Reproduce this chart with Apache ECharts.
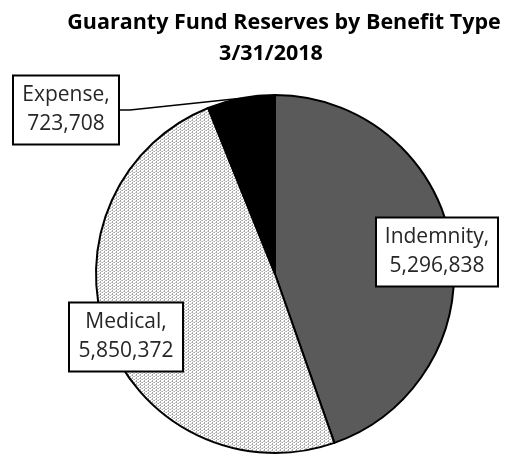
<!DOCTYPE html>
<html>
<head>
<meta charset="utf-8">
<script src="https://cdn.jsdelivr.net/npm/echarts@6/dist/echarts.min.js"></script>
<style>
  html, body { margin: 0; padding: 0; background: #fff; }
  #chart { width: 512px; height: 463px; }
</style>
</head>
<body>
<div id="chart"></div>
<script>
// Reserve totals by benefit type, 3/31/2018
var categories = ['Indemnity', 'Medical', 'Expense'];
var reserves = [5296838, 5850372, 723708];
var titleLines = ['Guaranty Fund Reserves by Benefit Type', '3/31/2018'];

// Light dotted fill used for the Medical slice
function dotPattern() {
  var c = document.createElement('canvas');
  c.width = 4; c.height = 3;
  var g = c.getContext('2d');
  g.fillStyle = '#ffffff';
  g.fillRect(0, 0, 4, 3);
  g.fillStyle = '#a6a6a6';
  g.fillRect(0, 0, 1, 1);
  g.fillRect(0, 2, 1, 1);
  g.fillRect(2, 1, 1, 1);
  g.fillStyle = '#c8c8c8';
  g.fillRect(1, 1, 1, 1);
  g.fillRect(3, 0, 1, 1);
  return c;
}

var fills = ['#5a5a5a', { image: dotPattern(), repeat: 'repeat' }, '#000000'];
// label box centres and text widths
var labelSpots = [
  { x: 437, y: 252, w: 104 },
  { x: 126, y: 337, w: 96 },
  { x: 66, y: 110, w: 88 }
];

function fmt(n) {
  return String(n).replace(/\B(?=(\d{3})+(?!\d))/g, ',');
}

var chart = echarts.init(document.getElementById('chart'), null, { renderer: 'canvas' });

chart.setOption({
  animation: false,
  backgroundColor: '#ffffff',
  title: [
    {
      text: titleLines[0],
      left: 279, top: 7, textAlign: 'center',
      textStyle: { fontFamily: 'Open Sans', fontWeight: 'bold', fontSize: 21.5, color: '#000' }
    },
    {
      text: titleLines[1],
      left: 266, top: 38, textAlign: 'center',
      textStyle: { fontFamily: 'Open Sans', fontWeight: 'bold', fontSize: 21.5, color: '#000' }
    }
  ],
  series: [{
    type: 'pie',
    center: [275, 274],
    radius: 179,
    startAngle: 90,
    clockwise: true,
    silent: true,
    itemStyle: { borderColor: '#000', borderWidth: 2 },
    label: {
      show: true,
      position: 'outside',
      alignTo: 'none',
      overflow: 'none',
      formatter: function (p) { return p.name + ',\n' + fmt(p.value); },
      fontFamily: 'Open Sans',
      fontSize: 21,
      lineHeight: 29,
      color: '#262626',
      backgroundColor: '#fff',
      borderColor: '#000',
      borderWidth: 2,
      padding: [5, 8, 4, 8],
      align: 'center'
    },
    labelLine: { show: false },
    labelLayout: function (p) {
      var s = labelSpots[p.dataIndex];
      return { x: s.x, y: s.y, align: 'center', verticalAlign: 'middle' };
    },
    data: categories.map(function (name, i) {
      return {
        name: name,
        value: reserves[i],
        itemStyle: { color: fills[i] },
        label: { width: labelSpots[i].w },
        labelLine: i === 2
          ? { show: true, length: 10, length2: 10, lineStyle: { color: '#000', width: 1.5 } }
          : { show: false }
      };
    })
  }]
});
</script>
</body>
</html>
